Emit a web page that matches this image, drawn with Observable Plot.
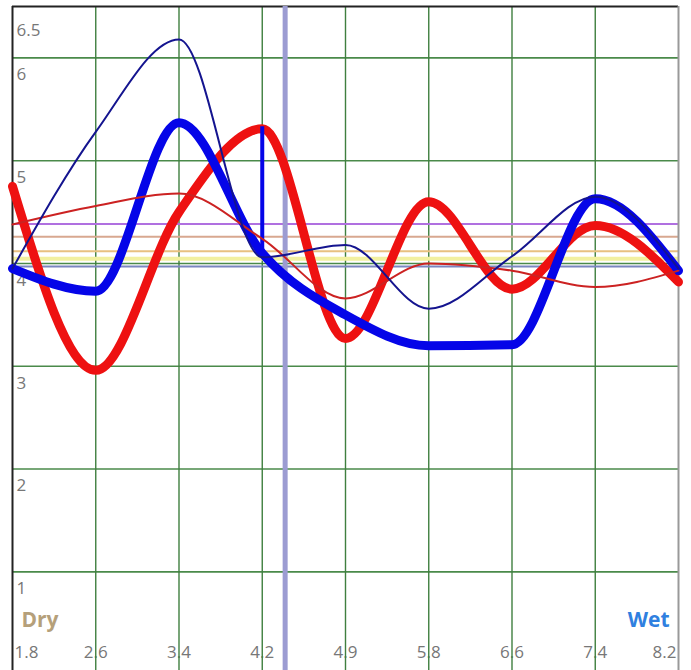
<!DOCTYPE html>
<html>
<head>
<meta charset="utf-8">
<script src="https://cdn.jsdelivr.net/npm/d3@7"></script>
<script src="https://cdn.jsdelivr.net/npm/@observablehq/plot@0.6"></script>
<style>
  html, body { margin: 0; padding: 0; background: #fff; }
  #wrap { position: relative; width: 691px; height: 670px; overflow: hidden; }
  #edge { position: absolute; left: 3px; top: 0; width: 2px; height: 670px; background: #555; }
  #chart { position: absolute; left: 0; top: 0; }
</style>
</head>
<body>
<div id="wrap"><div id="edge"></div><div id="chart"></div></div>
<script>
const xTicks = [1.8, 2.6, 3.4, 4.2, 5.0, 5.8, 6.6, 7.4, 8.2];
const xLabels = ["1.8", "2.6", "3.4", "4.2", "4.9", "5.8", "6.6", "7.4", "8.2"];
const yTicks = [1, 2, 3, 4, 5, 6];
const yLabels = ["1", "2", "3", "4", "5", "6"];
const yTopTick = [6.5];
const yTopLabel = ["6.5"];

const thickRed  = [4.75, 2.96, 4.50, 5.31, 3.27, 4.60, 3.75, 4.37, 3.82];
const thickBlue = [3.95, 3.73, 5.37, 4.10, 3.50, 3.20, 3.21, 4.63, 3.93];
const thinRed   = [4.38, 4.56, 4.68, 4.24, 3.66, 4.00, 3.93, 3.77, 3.93];
const thinNavy  = [3.95, 5.28, 6.18, 4.06, 4.18, 3.56, 4.07, 4.65, 3.95];

const levelValues = [4.385, 4.26, 4.12, 4.045, 3.97];
const levelColors = ["#b070e0", "#d8a890", "#e8c080", "#f2f0a0", "#7a86c0"];
const levelWidths = [2, 2, 2, 4, 2];

const marker = [4.42];
const blueBar = [{x: 4.2, y1: 4.12, y2: 5.33}];

const xMin = 1.8, xMax = 8.2, yMin = 0.04, yMax = 6.5;

const series = (vals) => xTicks.map((x, i) => ({x, y: vals[i]}));
const levels = levelValues.map((v, i) => ({v, c: levelColors[i], w: levelWidths[i]}));

const font = "'Open Sans', 'Noto Sans', sans-serif";
const labelFill = "#777";

const plot = Plot.plot({
  width: 691,
  height: 670,
  marginLeft: 12,
  marginRight: 13,
  marginTop: 6,
  marginBottom: 0,
  x: {domain: [xMin, xMax], axis: null},
  y: {domain: [yMin, yMax], axis: null},
  style: {fontFamily: font, background: "#fff"},
  marks: [
    // tick labels (grid lines drawn over them)
    Plot.text(xTicks.slice(1, -1), {x: d => d, frameAnchor: "bottom", dy: -13,
      text: (d, i) => xLabels[i + 1], fill: labelFill, fontSize: 17, textAnchor: "middle"}),
    Plot.text([xTicks[0]], {x: d => d, frameAnchor: "bottom", dy: -13, dx: 2,
      text: () => xLabels[0], fill: labelFill, fontSize: 17, textAnchor: "start"}),
    Plot.text([xTicks[xTicks.length - 1]], {x: d => d, frameAnchor: "bottom", dy: -13, dx: -2,
      text: () => xLabels[xLabels.length - 1], fill: labelFill, fontSize: 17, textAnchor: "end"}),
    Plot.text(yTicks, {x: xMin, y: d => d, dx: 4, dy: 17, text: (d, i) => yLabels[i],
      fill: labelFill, fontSize: 17, textAnchor: "start"}),
    Plot.text(yTopTick, {x: xMin, y: d => d, dx: 4, dy: 24, text: (d, i) => yTopLabel[i],
      fill: labelFill, fontSize: 17, textAnchor: "start"}),
    // grid
    Plot.ruleY(yTicks, {stroke: "#4a8a4a", strokeWidth: 1.6}),
    Plot.ruleX(xTicks.slice(1, -1), {stroke: "#3f7f3f", strokeWidth: 1.4}),
    // colored level lines
    Plot.ruleY(levels, {y: "v", stroke: "c", strokeWidth: "w"}),
    // frame
    Plot.ruleY([yMax], {stroke: "#222", strokeWidth: 2}),
    Plot.ruleX([xMin], {stroke: "#222", strokeWidth: 2}),
    Plot.ruleX([xMax], {stroke: "#999", strokeWidth: 2}),
    // marker
    Plot.ruleX(marker, {stroke: "#9c9cd2", strokeWidth: 5}),
    // curves
    Plot.line(series(thickRed), {x: "x", y: "y", stroke: "#ee1111", strokeWidth: 9, curve: "monotone-x"}),
    Plot.line(series(thickBlue), {x: "x", y: "y", stroke: "#0505e8", strokeWidth: 9, curve: "monotone-x"}),
    Plot.ruleX(blueBar, {x: "x", y1: "y1", y2: "y2", stroke: "#0505e8", strokeWidth: 4}),
    Plot.line(series(thinRed), {x: "x", y: "y", stroke: "#cc2222", strokeWidth: 2, curve: "monotone-x"}),
    Plot.line(series(thinNavy), {x: "x", y: "y", stroke: "#14148f", strokeWidth: 2, curve: "monotone-x"}),
    // Dry / Wet
    Plot.text(["Dry"], {frameAnchor: "bottom-left", dx: 9, dy: -44, text: d => d,
      fill: "#b5a07a", fontSize: 21, fontWeight: "bold", textAnchor: "start"}),
    Plot.text(["Wet"], {frameAnchor: "bottom-right", dx: -9, dy: -44, text: d => d,
      fill: "#2f80e0", fontSize: 21, fontWeight: "bold", textAnchor: "end"})
  ]
});
document.getElementById("chart").appendChild(plot);
</script>
</body>
</html>
